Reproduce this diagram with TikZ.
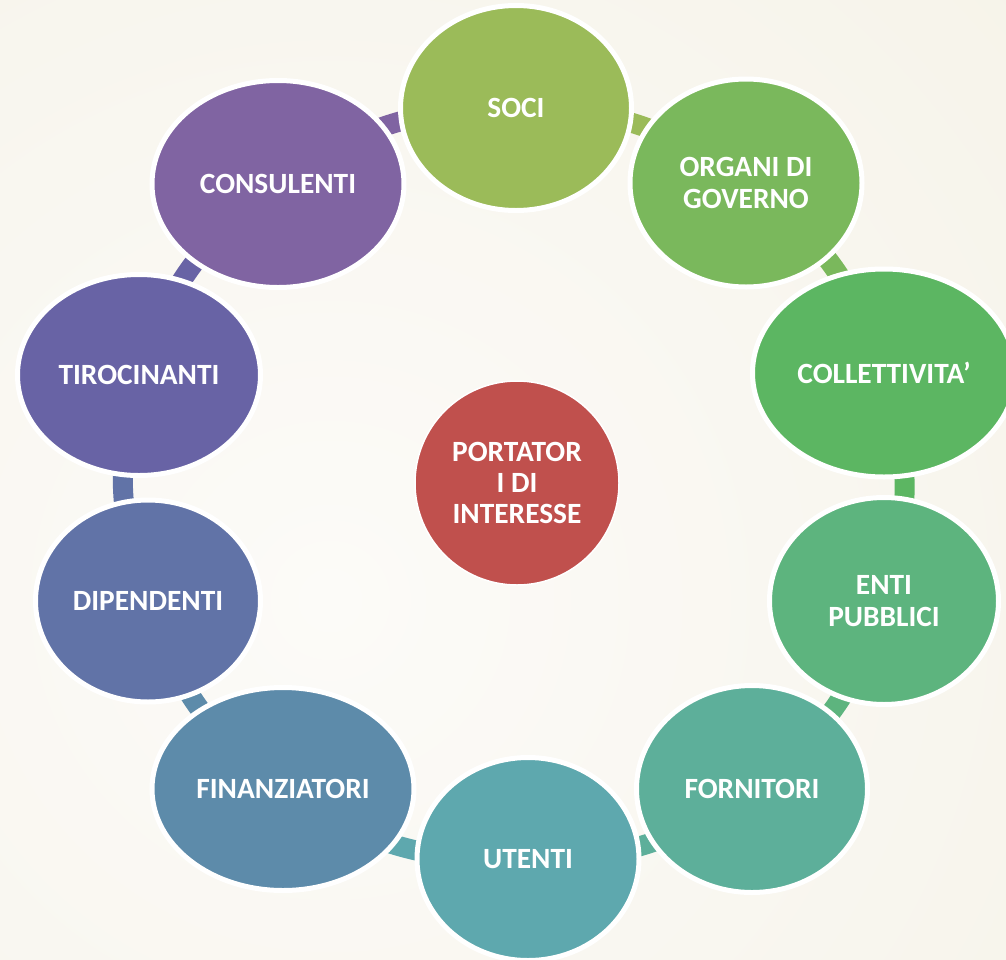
\documentclass[tikz,border=0pt]{standalone}
\usepackage{fontspec}
\setmainfont{Carlito}
\usetikzlibrary{shapes.geometric,backgrounds}

\definecolor{cSoci}{RGB}{155,187,89}
\definecolor{cOrgani}{RGB}{122,184,92}
\definecolor{cColl}{RGB}{92,182,98}
\definecolor{cEnti}{RGB}{93,180,126}
\definecolor{cForn}{RGB}{93,175,154}
\definecolor{cUtenti}{RGB}{94,168,174}
\definecolor{cFinanz}{RGB}{93,139,170}
\definecolor{cDipend}{RGB}{97,115,167}
\definecolor{cTiroc}{RGB}{104,99,165}
\definecolor{cConsul}{RGB}{128,100,162}
\definecolor{cHub}{RGB}{192,80,77}
\definecolor{bgLight}{RGB}{252,251,248}
\definecolor{bgMid}{RGB}{246,243,233}
\definecolor{bgDark}{RGB}{238,232,212}

\pgfdeclareradialshading{backglow}{\pgfpoint{0bp}{0bp}}{color(0bp)=(bgLight); color(25bp)=(bgMid); color(50bp)=(bgDark)}

\newcommand\rb{18}

\begin{document}
\begin{tikzpicture}[
			x=1bp,y=-1bp,
			stake/.style={ellipse,draw=white,line width=5bp,inner sep=0pt,text=white,align=center,
				font=\bfseries\fontsize{29.5}{31.5}\selectfont},
			link/.style={line width=20bp,bend left=\rb},
		]
		\useasboundingbox (0,0) rectangle (1006,960);
		\begin{pgfonlayer}{background}
			\begin{scope}
				\clip (0,0) rectangle (1006,960);
				\shade[shading=backglow] (330,600) circle (960);
			\end{scope}
		\end{pgfonlayer}

		\node [stake,circle,draw=white,line width=1.5bp,fill=cHub,minimum size=204bp] (hub) at (517,483) {PORTATOR\\I DI\\INTERESSE};

		\node [stake,fill=cSoci,minimum width=231bp,minimum height=205bp] (soci) at (516,108) {SOCI};
		\node [stake,fill=cOrgani,minimum width=232bp,minimum height=208bp] (organi) at (746,183) {ORGANI DI\\GOVERNO};
		\node [stake,fill=cColl,minimum width=263bp,minimum height=208bp] (coll) at (884,373) {COLLETTIVITA’};
		\node [stake,fill=cEnti,minimum width=229bp,minimum height=207bp] (enti) at (884,601) {ENTI\\PUBBLICI};
		\node [stake,fill=cForn,minimum width=231bp,minimum height=207bp] (forn) at (752,789) {FORNITORI};
		\node [stake,fill=cUtenti,minimum width=222bp,minimum height=203bp] (utenti) at (528,859) {UTENTI};
		\node [stake,fill=cFinanz,minimum width=262bp,minimum height=203bp] (finanz) at (283,789) {FINANZIATORI};
		\node [stake,fill=cDipend,minimum width=225bp,minimum height=202bp] (dipend) at (148,601) {DIPENDENTI};
		\node [stake,fill=cTiroc,minimum width=243bp,minimum height=201bp] (tiroc) at (139,375) {TIROCINANTI};
		\node [stake,fill=cConsul,minimum width=252bp,minimum height=207bp] (consul) at (278,184) {CONSULENTI};

		% ring pieces, behind the ellipses
		\begin{pgfonlayer}{background}
			\draw[link,cSoci] (soci.center) to (organi.center);
			\draw[link,cOrgani] (organi.center) to (coll.center);
			\draw[link,cColl] (coll.center) to (enti.center);
			\draw[link,cEnti] (enti.center) to (forn.center);
			\draw[link,cForn] (forn.center) to (utenti.center);
			\draw[link,cUtenti] (utenti.center) to (finanz.center);
			\draw[link,cFinanz] (finanz.center) to (dipend.center);
			\draw[link,cDipend] (dipend.center) to (tiroc.center);
			\draw[link,cTiroc] (tiroc.center) to (consul.center);
			\draw[link,cConsul] (consul.center) to (soci.center);
		\end{pgfonlayer}
	\end{tikzpicture}
\end{document}
